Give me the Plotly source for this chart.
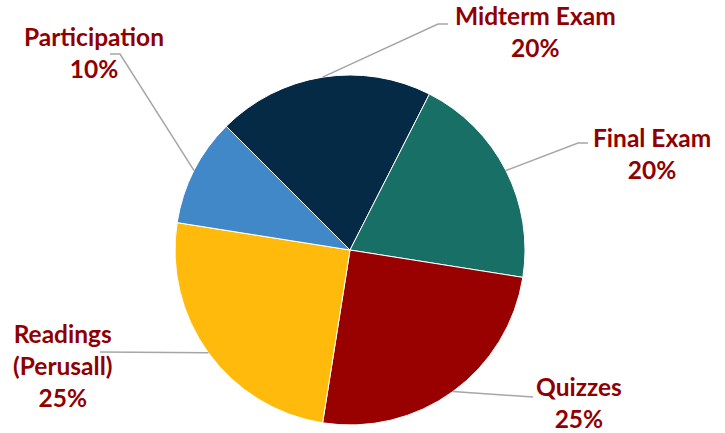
import math
import plotly.graph_objects as go

# ---- data ----
categories = ["Midterm Exam", "Final Exam", "Quizzes", "Readings<br>(Perusall)", "Participation"]
values = [20, 20, 25, 25, 10]
colors = ["#052A45", "#176F65", "#990000", "#FFBA0B", "#4188C8"]

# ---- layout constants (pixels) ----
W, H = 725, 433
CX, CY, R = 350, 250, 175
ROTATION = -45  # first slice starts at 315 deg (clockwise from 12 o'clock)

# label block centers and leader-line elbow points (style/layout)
label_pos = [(535, 32), (652, 153), (579, 402), (62, 365), (94, 53)]
elbows = [[(438, 24), (448, 24)],
          [(578, 143), (588, 143)],
          [(533, 397)],
          [(100, 352)],
          [(120, 54), (110, 54)]]

TEXT_COLOR = "#900000"
LINE_COLOR = "#A6A6A6"

def px(x):
    return x / W

def py(y):
    return 1 - y / H

fig = go.Figure()
fig.add_trace(go.Pie(
    labels=categories,
    values=values,
    sort=False,
    direction="clockwise",
    rotation=ROTATION,
    marker=dict(colors=colors, line=dict(color="white", width=1)),
    textinfo="none",
    hoverinfo="label+percent",
    showlegend=False,
    domain=dict(x=[px(CX - R), px(CX + R)], y=[py(CY + R), py(CY - R)]),
))

total = sum(values)
shapes = []
annotations = []
cum = 0
for i, (cat, v) in enumerate(zip(categories, values)):
    mid = ROTATION + (cum + v / 2) / total * 360
    cum += v
    a = math.radians(mid)
    sx = CX + R * math.sin(a)
    sy = CY - R * math.cos(a)
    pts = [(sx, sy)] + elbows[i]
    path = "M " + " L ".join(f"{px(x):.5f},{py(y):.5f}" for x, y in pts)
    shapes.append(dict(type="path", path=path, xref="paper", yref="paper",
                       line=dict(color=LINE_COLOR, width=1.5)))
    pct = round(v / total * 100)
    lx, ly = label_pos[i]
    annotations.append(dict(
        x=px(lx), y=py(ly), xref="paper", yref="paper",
        text=f"{cat}<br>{pct}%", showarrow=False,
        xanchor="center", yanchor="middle", align="center",
        font=dict(family="Lato", size=24.5, color=TEXT_COLOR, weight="bold"),
    ))

fig.update_layout(
    width=W, height=H,
    margin=dict(l=0, r=0, t=0, b=0),
    paper_bgcolor="white",
    plot_bgcolor="white",
    shapes=shapes,
    annotations=annotations,
)

fig.write_html("out.html")
